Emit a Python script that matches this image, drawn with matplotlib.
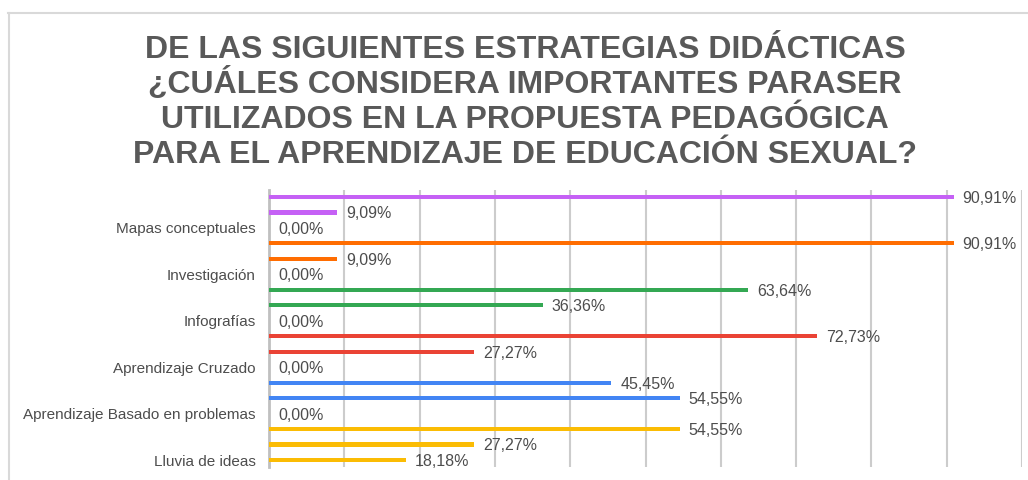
import numpy as np
import matplotlib
matplotlib.use('Agg')
import matplotlib.pyplot as plt
from matplotlib.lines import Line2D

# categories top to bottom, three values each (top, middle, bottom bar)
categories = ['Mapas conceptuales', 'Investigación', 'Infografías',
              'Aprendizaje Cruzado', 'Aprendizaje Basado en problemas',
              'Lluvia de ideas']
top_vals = [90.91, 90.91, 63.64, 72.73, 45.45, 54.55]
mid_vals = [9.09, 9.09, 36.36, 27.27, 54.55, 27.27]
bot_vals = [0.00, 0.00, 0.00, 0.00, 0.00, 18.18]
colors = ['#c561f5', '#ff6d01', '#34a853', '#ea4335', '#4285f4', '#fbbc04']

title_lines = ['DE LAS SIGUIENTES ESTRATEGIAS DIDÁCTICAS',
               '¿CUÁLES CONSIDERA IMPORTANTES PARASER',
               'UTILIZADOS EN LA PROPUESTA PEDAGÓGICA',
               'PARA EL APRENDIZAJE DE EDUCACIÓN SEXUAL?']

plt.rcParams['font.family'] = ['Liberation Sans', 'DejaVu Sans']

W, H = 1028, 480
fig = plt.figure(figsize=(W / 100, H / 100), dpi=100)
ax = fig.add_axes([269 / W, 1 - 467 / H, (1022 - 269) / W, (467 - 190) / H])

txt_col = '#4d4d4d'
n = len(categories)
ys, vals, cols = [], [], []
for i in range(n):
    base = i * 3
    for j, v in enumerate([top_vals[i], mid_vals[i], bot_vals[i]]):
        ys.append(base + j)
        vals.append(v)
        cols.append(colors[i])

ax.barh(ys, vals, height=0.27, color=cols, zorder=3)
for y, v in zip(ys, vals):
    ax.annotate(('%.2f%%' % v).replace('.', ','), (v, y), xytext=(6.5, -1),
                textcoords='offset points', va='center', ha='left',
                fontsize=11.5, color=txt_col, zorder=4)

ax.set_ylim(len(ys) - 1 + 0.45, -0.45)
ax.set_xlim(0, 100)
ax.set_yticks([i * 3 + 2 for i in range(n)])
ax.set_yticklabels(categories, fontsize=11, color=txt_col)
ax.tick_params(axis='y', length=0, pad=9.5)
ax.set_xticks(np.arange(10, 101, 10))
ax.tick_params(axis='x', length=0, labelbottom=False)
ax.grid(axis='x', color='#cccccc', linewidth=1.5, zorder=0)
for s in ['top', 'right', 'bottom']:
    ax.spines[s].set_visible(False)
ax.spines['left'].set_color('#c0c0c0')
ax.spines['left'].set_linewidth(2)
ax.spines['left'].set_zorder(2)

# chart border (cropped at right and bottom)
fig.add_artist(Line2D([8 / W, 1], [1 - 12.5 / H] * 2, color='#d9d9d9', lw=1.5,
                      transform=fig.transFigure))
fig.add_artist(Line2D([8.5 / W] * 2, [0, 1 - 12.5 / H], color='#d9d9d9', lw=1.5,
                      transform=fig.transFigure))

for line, yb in zip(title_lines, [58, 93, 128, 162.5]):
    fig.text(525 / W, 1 - yb / H, line, ha='center', va='baseline',
             fontsize=23, fontweight='bold', color='#595959')

fig.savefig('out.png', dpi=100)
